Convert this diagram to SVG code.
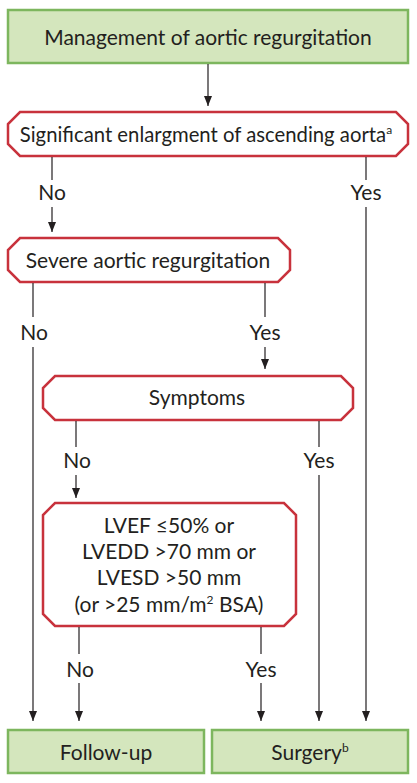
<svg xmlns="http://www.w3.org/2000/svg" width="417" height="783" viewBox="0 0 417 783">
<style>
.t{font-family:Lato,"Open Sans","DejaVu Sans",sans-serif;font-size:21px;fill:#231f20;text-anchor:middle}
.g{fill:#d4e6bd;stroke:#7db65e;stroke-width:2.5}
.r{fill:#ffffff;stroke:#c8323c;stroke-width:2.5}
.c{stroke:#231f20;stroke-width:1.2;fill:none}
.a{marker-end:url(#ah)}
.s{font-size:12px}
</style>
<defs>
<marker id="ah" markerUnits="userSpaceOnUse" markerWidth="10" markerHeight="8" refX="10" refY="4" orient="auto" viewBox="0 0 10 8">
<path d="M0,0 L10,4 L0,8 Z" fill="#231f20"/>
</marker>
</defs>
<rect width="417" height="783" fill="#ffffff"/>
<g id="n-start">
<rect class="g" x="8" y="10" width="400" height="53"/>
<text class="t" x="208" y="45">Management of aortic regurgitation</text>
</g>
<g id="n-enlargement">
<path class="r" d="M20,112 H396 L408,124 V144 L396,156 H20 L8,144 V124 Z"/>
<text class="t" x="206" y="142" style="font-size:20.3px">Significant enlargment of ascending aorta<tspan class="s" dy="-8">a</tspan></text>
</g>
<g id="n-severe">
<path class="r" d="M20,238 H278 L290,250 V270 L278,282 H20 L8,270 V250 Z"/>
<text class="t" x="148" y="268">Severe aortic regurgitation</text>
</g>
<g id="n-symptoms">
<path class="r" d="M55,376 H341 L353,388 V408 L341,420 H55 L43,408 V388 Z"/>
<text class="t" x="197" y="405">Symptoms</text>
</g>
<g id="n-lv">
<path class="r" d="M55,503 H284 L296,515 V614 L284,626 H55 L43,614 V515 Z"/>
<text class="t" x="169" y="533">LVEF ≤50% or</text>
<text class="t" x="169" y="559">LVEDD &gt;70 mm or</text>
<text class="t" x="169" y="585">LVESD &gt;50 mm</text>
<text class="t" x="169" y="612">(or &gt;25 mm/m<tspan class="s" dy="-8">2</tspan><tspan dy="8"> BSA)</tspan></text>
</g>
<g id="n-followup">
<rect class="g" x="8" y="730" width="196" height="43"/>
<text class="t" x="106" y="760">Follow-up</text>
</g>
<g id="n-surgery">
<rect class="g" x="212" y="730" width="196" height="43"/>
<text class="t" x="310" y="760">Surgery<tspan class="s" dy="-8">b</tspan></text>
</g>
<g id="connectors">
<line class="c a" x1="208" y1="64" x2="208" y2="106"/>
<line class="c" x1="52" y1="157" x2="52" y2="180"/>
<line class="c a" x1="52" y1="207" x2="52" y2="232"/>
<line class="c" x1="366" y1="157" x2="366" y2="180"/>
<line class="c a" x1="366" y1="207" x2="366" y2="721"/>
<line class="c" x1="33" y1="283" x2="33" y2="317"/>
<line class="c a" x1="33" y1="347" x2="33" y2="721"/>
<line class="c" x1="265" y1="283" x2="265" y2="317"/>
<line class="c a" x1="265" y1="347" x2="265" y2="369"/>
<line class="c" x1="76" y1="421" x2="76" y2="447"/>
<line class="c a" x1="76" y1="475" x2="76" y2="498"/>
<line class="c" x1="319" y1="421" x2="319" y2="447"/>
<line class="c a" x1="319" y1="475" x2="319" y2="721"/>
<line class="c" x1="79" y1="627" x2="79" y2="654"/>
<line class="c a" x1="79" y1="683" x2="79" y2="721"/>
<line class="c" x1="261" y1="627" x2="261" y2="654"/>
<line class="c a" x1="261" y1="683" x2="261" y2="721"/>
<text class="t" x="52" y="200">No</text>
<text class="t" x="366" y="200">Yes</text>
<text class="t" x="34" y="340">No</text>
<text class="t" x="265" y="340">Yes</text>
<text class="t" x="77" y="468">No</text>
<text class="t" x="319" y="468">Yes</text>
<text class="t" x="80" y="677">No</text>
<text class="t" x="261" y="677">Yes</text>
</g>
</svg>
